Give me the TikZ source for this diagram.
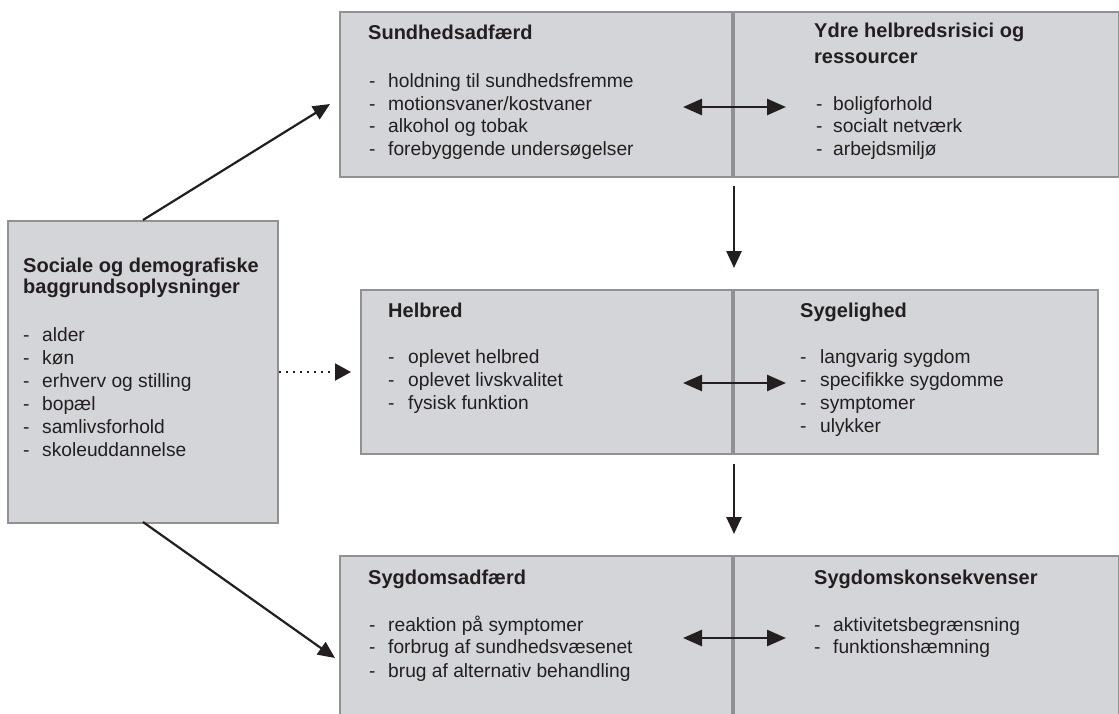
\documentclass[tikz,border=0pt]{standalone}
\usepackage{fontspec}
\setmainfont{Liberation Sans}
\usetikzlibrary{arrows.meta}
\definecolor{boxfill}{RGB}{212,213,216}
\definecolor{boxline}{RGB}{145,145,147}
\definecolor{ink}{RGB}{35,31,32}
\begin{document}
\begin{tikzpicture}[x=1pt,y=-1pt,
  box/.style={draw=boxline, line width=1.3pt, fill=boxfill, anchor=north west, inner sep=0pt, outer sep=0pt},
  ttl/.style={anchor=base west, inner sep=0pt, font=\fontsize{20}{23}\selectfont\bfseries, text=ink},
  itm/.style={anchor=base west, inner sep=0pt, font=\fontsize{19.2}{23}\selectfont, text=ink},
  arr/.style={draw=ink, line width=2.2pt, -{Triangle[length=17pt,width=15pt]}},
  darr/.style={draw=ink, line width=2.6pt, {Triangle[length=19pt,width=16pt]}-{Triangle[length=19pt,width=16pt]}},
  dotarr/.style={draw=ink, line width=2pt, dash pattern=on 1.6pt off 5.4pt, -{Triangle[length=16pt,width=17pt]}}]
\useasboundingbox (0,0) rectangle (1119,713);
\clip (0,0) rectangle (1119,713);
\fill[white] (0,0) rectangle (1119,713);

% boxes
\node[box, minimum width=270pt, minimum height=302pt] (L) at (8,221) {};
\node[box, minimum width=392pt, minimum height=165pt] (TA) at (340,12) {};
\node[box, minimum width=385pt, minimum height=165pt] (TB) at (734,12) {};
\node[box, minimum width=371pt, minimum height=164pt] (MA) at (361,290) {};
\node[box, minimum width=364pt, minimum height=164pt] (MB) at (734,290) {};
\node[box, minimum width=392pt, minimum height=180pt] (BA) at (340,556) {};
\node[box, minimum width=385pt, minimum height=180pt] (BB) at (734,556) {};

% left box
\node[ttl] (Lt1) at (23,272) {Sociale og demografiske};
\node[ttl] (Lt2) at (23,293) {baggrundsoplysninger};
\foreach \t [count=\i from 0] in {alder,køn,erhverv og stilling,bopæl,samlivsforhold,skoleuddannelse}{
  \node[itm] (Ld\i) at (23,341+23*\i) {-};
  \node[itm] (Li\i) at (42,341+23*\i) {\t};
}

% top left
\node[ttl] (TAt) at (368,39) {Sundhedsadfærd};
\foreach \t/\y [count=\i] in {holdning til sundhedsfremme/87,motionsvaner\slash kostvaner/110,alkohol og tobak/132,forebyggende undersøgelser/155}{
  \node[itm] (TAd\i) at (369,\y) {-};
  \node[itm] (TAi\i) at (388,\y) {\t};
}
% top right
\node[ttl] (TBt1) at (814,37) {Ydre helbredsrisici og};
\node[ttl] (TBt2) at (814,63) {ressourcer};
\foreach \t/\y [count=\i] in {boligforhold/110,socialt netværk/132,arbejdsmiljø/155}{
  \node[itm] (TBd\i) at (816,\y) {-};
  \node[itm] (TBi\i) at (833,\y) {\t};
}

% middle left
\node[ttl] (MAt) at (388,317) {Helbred};
\foreach \t/\y [count=\i] in {oplevet helbred/363,oplevet livskvalitet/386,fysisk funktion/409}{
  \node[itm] (MAd\i) at (388,\y) {-};
  \node[itm] (MAi\i) at (408,\y) {\t};
}
% middle right
\node[ttl] (MBt) at (800,317) {Sygelighed};
\foreach \t/\y [count=\i] in {langvarig sygdom/363,specifikke sygdomme/386,symptomer/409,ulykker/432}{
  \node[itm] (MBd\i) at (800,\y) {-};
  \node[itm] (MBi\i) at (820,\y) {\t};
}

% bottom left
\node[ttl] (BAt) at (368,584) {Sygdomsadfærd};
\foreach \t/\y [count=\i] in {reaktion på symptomer/631,forbrug af sundhedsvæsenet/653,brug af alternativ behandling/677}{
  \node[itm] (BAd\i) at (369,\y) {-};
  \node[itm] (BAi\i) at (388,\y) {\t};
}
% bottom right
\node[ttl] (BBt) at (814,584) {Sygdomskonsekvenser};
\foreach \t/\y [count=\i] in {aktivitetsbegrænsning/631,funktionshæmning/653}{
  \node[itm] (BBd\i) at (814,\y) {-};
  \node[itm] (BBi\i) at (833,\y) {\t};
}

% connector end points
\coordinate (d1s) at (143,220);
\coordinate (d1e) at (330,104);
\coordinate (d2s) at (143,522);
\coordinate (d2e) at (335,658);
\coordinate (dots) at (279,372);
\coordinate (dote) at (351,372);
\coordinate (v1s) at (734,186);
\coordinate (v1e) at (734,268);
\coordinate (v2s) at (734,464);
\coordinate (v2e) at (734,534);
\coordinate (h1a) at (683,107);
\coordinate (h1b) at (786,107);
\coordinate (h2a) at (683,383);
\coordinate (h2b) at (786,383);
\coordinate (h3a) at (683,638);
\coordinate (h3b) at (786,638);

\draw[arr] (d1s) -- (d1e);
\draw[arr] (d2s) -- (d2e);
\draw[dotarr] (dots) -- (dote);
\draw[arr, line width=2.6pt] (v1s) -- (v1e);
\draw[arr, line width=2.6pt] (v2s) -- (v2e);
\draw[darr] (h1a) -- (h1b);
\draw[darr] (h2a) -- (h2b);
\draw[darr] (h3a) -- (h3b);
\end{tikzpicture}
\end{document}
